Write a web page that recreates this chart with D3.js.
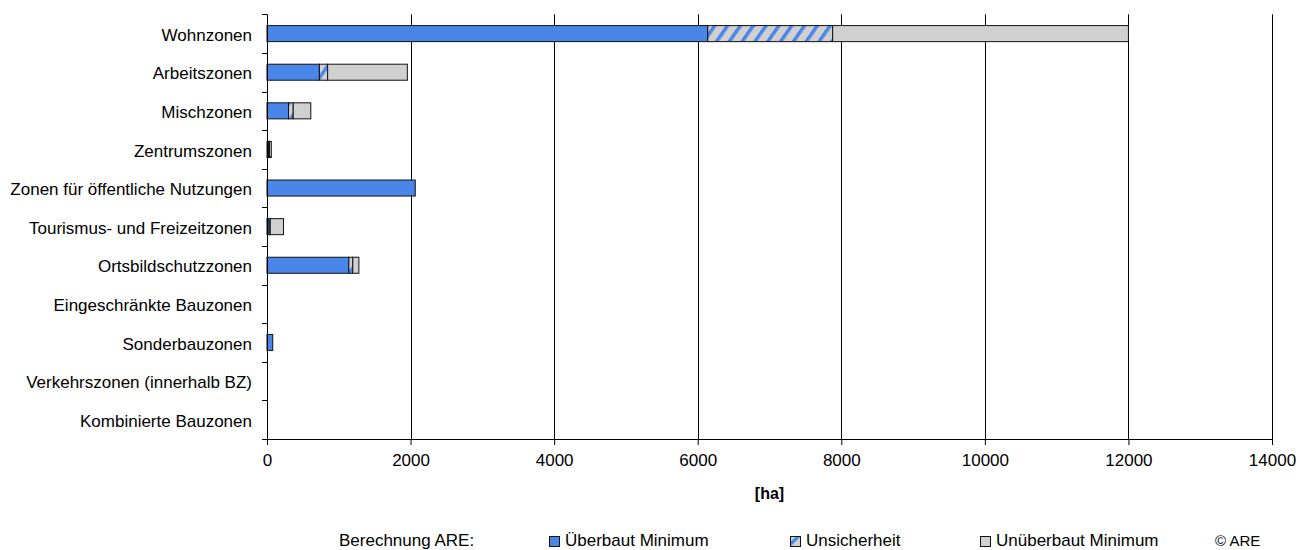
<!DOCTYPE html>
<html><head><meta charset="utf-8">
<script src="https://cdn.jsdelivr.net/npm/d3@7"></script>
<style>
body{margin:0;background:#fff;}
text{font-family:"Liberation Sans",Arial,sans-serif;fill:#000;}
</style></head>
<body><svg id="c" width="1300" height="550"></svg>
<script>
const categories = ["Wohnzonen","Arbeitszonen","Mischzonen","Zentrumszonen","Zonen für öffentliche Nutzungen","Tourismus- und Freizeitzonen","Ortsbildschutzzonen","Eingeschränkte Bauzonen","Sonderbauzonen","Verkehrszonen (innerhalb BZ)","Kombinierte Bauzonen"];
const ueberbautMin = [6140, 730, 300, 20, 2065, 30, 1140, 0, 80, 0, 0];
const unsicherheit = [1740, 115, 65, 15, 0, 15, 55, 0, 0, 0, 0];
const unueberbautMin = [4120, 1110, 245, 25, 0, 185, 85, 0, 0, 0, 0];
const seriesNames = ["Überbaut Minimum","Unsicherheit","Unüberbaut Minimum"];
const xTicks = [0,2000,4000,6000,8000,10000,12000,14000];
const axisTitle = "[ha]";
const legendPrefix = "Berechnung ARE:";
const copyright = "© ARE";

const svg = d3.select("#c");
const pLeft = 267, pRight = 1272, pTop = 14.3, pBottom = 439;
const x = d3.scaleLinear().domain([0,14000]).range([pLeft,pRight]);
const y = d3.scaleBand().domain(categories).range([pTop,pBottom]).paddingInner(0.585).paddingOuter(0.2925);

const defs = svg.append("defs");
const pat = defs.append("pattern").attr("id","hatch").attr("patternUnits","userSpaceOnUse")
  .attr("width",10.5).attr("height",10.5).attr("patternTransform","rotate(35)");
pat.append("rect").attr("width",10.5).attr("height",10.5).attr("fill","#d0d0d0");
pat.append("rect").attr("width",3.5).attr("height",10.5).attr("fill","#4a86e8");

const fills = ["#4a86e8","url(#hatch)","#d0d0d0"];

// gridlines
svg.append("g").selectAll("line").data(xTicks.filter(d=>d>0)).join("line")
  .attr("x1",d=>Math.round(x(d))+0.5).attr("x2",d=>Math.round(x(d))+0.5)
  .attr("y1",pTop).attr("y2",pBottom).attr("stroke","#000").attr("stroke-width",1);

// bars
const rows = categories.map((c,i)=>{
  const vals=[ueberbautMin[i],unsicherheit[i],unueberbautMin[i]];
  let acc=0; return vals.map((v,k)=>{const s={cat:c,x0:acc,x1:acc+v,k}; acc+=v; return s;});
}).flat().filter(d=>d.x1>d.x0);
svg.append("g").selectAll("rect").data(rows).join("rect")
  .attr("x",d=>x(d.x0)).attr("width",d=>x(d.x1)-x(d.x0))
  .attr("y",d=>y(d.cat)).attr("height",y.bandwidth())
  .attr("fill",d=>fills[d.k]).attr("stroke","#111").attr("stroke-width",1);

// y axis
const yAx = svg.append("g");
yAx.append("line").attr("x1",pLeft+0.5).attr("x2",pLeft+0.5).attr("y1",pTop).attr("y2",pBottom).attr("stroke","#000");
const step = (pBottom-pTop)/categories.length;
yAx.selectAll("line.t").data(d3.range(categories.length+1)).join("line").attr("class","t")
  .attr("x1",pLeft-5).attr("x2",pLeft).attr("y1",i=>Math.round(pTop+i*step)+0.5).attr("y2",i=>Math.round(pTop+i*step)+0.5).attr("stroke","#000");
yAx.selectAll("text").data(categories).join("text")
  .attr("x",252).attr("y",d=>y(d)+y.bandwidth()/2).attr("dy","0.42em")
  .attr("text-anchor","end").attr("font-size",17).text(d=>d);

// x axis
const xAx = svg.append("g").attr("transform",`translate(0,${pBottom})`)
  .call(d3.axisBottom(x).tickValues(xTicks).tickSize(6).tickPadding(9).tickFormat(d3.format("d")));
xAx.select(".domain").attr("d",`M${pLeft-5},0.5H${pRight}`).attr("stroke","#000");
xAx.selectAll(".tick line").attr("stroke","#000");
xAx.selectAll("text").attr("font-size",17).attr("font-family","Liberation Sans, Arial, sans-serif");

svg.append("text").attr("x",(pLeft+pRight)/2).attr("y",499).attr("text-anchor","middle")
  .attr("font-size",16).attr("font-weight","bold").text(axisTitle);

// legend
const ly = 546;
svg.append("text").attr("x",339).attr("y",ly).attr("font-size",17).text(legendPrefix);
const legX = [549,790,980];
const lg = svg.append("g").selectAll("g").data(seriesNames).join("g");
lg.append("rect").attr("x",(d,i)=>legX[i]+0.5).attr("y",536.5).attr("width",10).attr("height",10)
  .attr("fill",(d,i)=>i===1?"#d0d0d0":fills[i]).attr("stroke","#111");
// diagonal stripe for the hatched legend swatch
lg.filter((d,i)=>i===1).append("path")
  .attr("d",(d,i)=>`M${legX[1]+1},${546}L${legX[1]+1},${541}L${legX[1]+6},${537}L${legX[1]+10},${537}Z`)
  .attr("fill","#4a86e8");
lg.filter((d,i)=>i===1).append("rect").attr("x",legX[1]+0.5).attr("y",536.5).attr("width",10).attr("height",10)
  .attr("fill","none").attr("stroke","#111");
lg.append("text").attr("x",(d,i)=>legX[i]+16).attr("y",ly).attr("font-size",17).text(d=>d);
svg.append("text").attr("x",1215).attr("y",ly).attr("font-size",15).text(copyright);
</script></body></html>
